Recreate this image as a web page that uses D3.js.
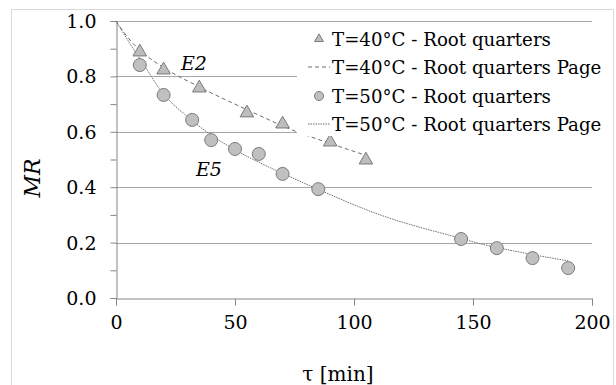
<!DOCTYPE html>
<html>
<head>
<meta charset="utf-8">
<script src="https://cdn.jsdelivr.net/npm/d3@7"></script>
<style>
body { margin: 0; background: #fff; }
</style>
</head>
<body>
<div id="viz"></div>
<script>
// measured points, 40 C (triangles)
var t40 = [10, 20, 35, 55, 70, 90, 105];
var mr40 = [0.888, 0.823, 0.758, 0.668, 0.628, 0.563, 0.498];
// measured points, 50 C (circles)
var t50 = [10, 20, 32, 40, 50, 60, 70, 85, 145, 160, 175, 190];
var mr50 = [0.841, 0.733, 0.643, 0.570, 0.538, 0.520, 0.448, 0.393, 0.213, 0.180, 0.144, 0.108];
// Page model curves
var page40T = [0, 5, 10, 20, 35, 55, 76, 90, 105];
var page40MR = [1.0, 0.94, 0.895, 0.832, 0.762, 0.680, 0.600, 0.558, 0.515];
var page50T = [0, 5, 10, 20, 30, 40, 50, 60, 70, 85, 111, 145, 153, 170, 190];
var page50MR = [1.0, 0.93, 0.865, 0.736, 0.655, 0.588, 0.535, 0.490, 0.450, 0.392, 0.300, 0.215, 0.196, 0.165, 0.134];

var xTicks = [0, 50, 100, 150, 200];
var yTicks = [0, 0.1, 0.2, 0.3, 0.4, 0.5, 0.6, 0.7, 0.8, 0.9, 1.0];
var legendLabels = ["T=40\u00b0C - Root quarters", "T=40\u00b0C - Root quarters Page",
                    "T=50\u00b0C - Root quarters", "T=50\u00b0C - Root quarters Page"];

var W = 616, H = 385;
var plot = {left: 116, right: 592, top: 21, bottom: 298};
var FONT = "'DejaVu Serif', 'Noto Serif', serif";

var svg = d3.select("#viz").append("svg")
    .attr("width", W)
    .attr("height", H)
    .attr("font-family", FONT);

svg.append("rect")
    .attr("x", 11.5).attr("y", 9.5)
    .attr("width", 602).attr("height", 400)
    .style("fill", "#fff")
    .style("stroke", "#d9d9d9");

var x = d3.scaleLinear().domain([0, 200]).range([plot.left, plot.right]);
var y = d3.scaleLinear().domain([0, 1]).range([plot.bottom, plot.top]);

// horizontal gridlines
svg.append("g").selectAll("line")
    .data([0.2, 0.4, 0.6, 0.8, 1.0])
    .enter().append("line")
    .attr("x1", plot.left).attr("x2", plot.right)
    .attr("y1", function(d) { return Math.round(y(d)) + 0.5; })
    .attr("y2", function(d) { return Math.round(y(d)) + 0.5; })
    .style("stroke", "#a6a6a6")
    .style("stroke-width", 1);

// axes
var yAxis = d3.axisLeft(y)
    .tickValues(yTicks)
    .tickSize(6)
    .tickPadding(14)
    .tickFormat(function(d) {
        var r = Math.round(d * 10);
        return r % 2 == 0 ? d3.format(".1f")(d) : "";
    });
var gy = svg.append("g")
    .attr("transform", "translate(" + (plot.left + 0.5) + ",0)")
    .call(yAxis);

var xAxis = d3.axisBottom(x)
    .tickValues(xTicks)
    .tickSize(7)
    .tickPadding(10)
    .tickFormat(d3.format("d"));
var gx = svg.append("g")
    .attr("transform", "translate(0," + (plot.bottom + 0.5) + ")")
    .call(xAxis);

[gx, gy].forEach(function(g) {
    g.attr("font-family", FONT).attr("font-size", 19);
    g.select(".domain").style("stroke", "#868686");
    g.selectAll(".tick line").style("stroke", "#868686");
    g.selectAll("text").style("fill", "#000");
});
gy.selectAll("text").attr("dy", "0.34em");

// model curves
var line = d3.line()
    .x(function(d) { return x(d[0]); })
    .y(function(d) { return y(d[1]); })
    .curve(d3.curveMonotoneX);

svg.append("path")
    .datum(d3.zip(page40T, page40MR))
    .attr("d", line)
    .style("fill", "none")
    .style("stroke", "#6e6e6e")
    .style("stroke-width", 1)
    .style("stroke-dasharray", "4,3");

svg.append("path")
    .datum(d3.zip(page50T, page50MR))
    .attr("d", line)
    .style("fill", "none")
    .style("stroke", "#6e6e6e")
    .style("stroke-width", 1)
    .style("stroke-dasharray", "1.5,1");

// markers
var tri = d3.symbol().type(d3.symbolTriangle).size(80);

svg.append("g").selectAll("path")
    .data(d3.zip(t40, mr40))
    .enter().append("path")
    .attr("d", tri)
    .attr("transform", function(d) { return "translate(" + x(d[0]) + "," + y(d[1]) + ")"; })
    .style("fill", "#bdbdbd")
    .style("stroke", "#7a7a7a");

svg.append("g").selectAll("circle")
    .data(d3.zip(t50, mr50))
    .enter().append("circle")
    .attr("cx", function(d) { return x(d[0]); })
    .attr("cy", function(d) { return y(d[1]); })
    .attr("r", 6.5)
    .style("fill", "#c0c0c0")
    .style("stroke", "#7a7a7a");

// curve labels
svg.append("text")
    .attr("x", 181).attr("y", 70)
    .attr("font-size", 19).attr("font-style", "italic")
    .text("E2");
svg.append("text")
    .attr("x", 196).attr("y", 176)
    .attr("font-size", 19).attr("font-style", "italic")
    .text("E5");

// legend
var lg = svg.append("g");
lg.append("rect")
    .attr("x", 297).attr("y", 23)
    .attr("width", 310).attr("height", 113)
    .style("fill", "#fff");

var rowY = [39, 67, 96, 124];
lg.selectAll("text")
    .data(legendLabels)
    .enter().append("text")
    .attr("x", 332)
    .attr("y", function(d, i) { return rowY[i] + 7; })
    .attr("font-size", 18.2)
    .text(function(d) { return d; });

lg.append("path")
    .attr("d", d3.symbol().type(d3.symbolTriangle).size(34))
    .attr("transform", "translate(319," + rowY[0] + ")")
    .style("fill", "#bdbdbd").style("stroke", "#7a7a7a");
lg.append("line")
    .attr("x1", 308).attr("x2", 330)
    .attr("y1", rowY[1]).attr("y2", rowY[1])
    .style("stroke", "#6e6e6e").style("stroke-dasharray", "4,3");
lg.append("circle")
    .attr("cx", 319).attr("cy", rowY[2]).attr("r", 4.5)
    .style("fill", "#c0c0c0").style("stroke", "#7a7a7a");
lg.append("line")
    .attr("x1", 308).attr("x2", 330)
    .attr("y1", rowY[3]).attr("y2", rowY[3])
    .style("stroke", "#6e6e6e").style("stroke-dasharray", "1.5,1");

// axis titles
svg.append("text")
    .attr("transform", "translate(40,178) rotate(-90)")
    .attr("text-anchor", "middle")
    .attr("font-size", 22).attr("font-style", "italic")
    .text("MR");
svg.append("text")
    .attr("x", 338).attr("y", 381)
    .attr("text-anchor", "middle")
    .attr("font-size", 20)
    .text("\u03c4 [min]");
</script>
</body>
</html>
